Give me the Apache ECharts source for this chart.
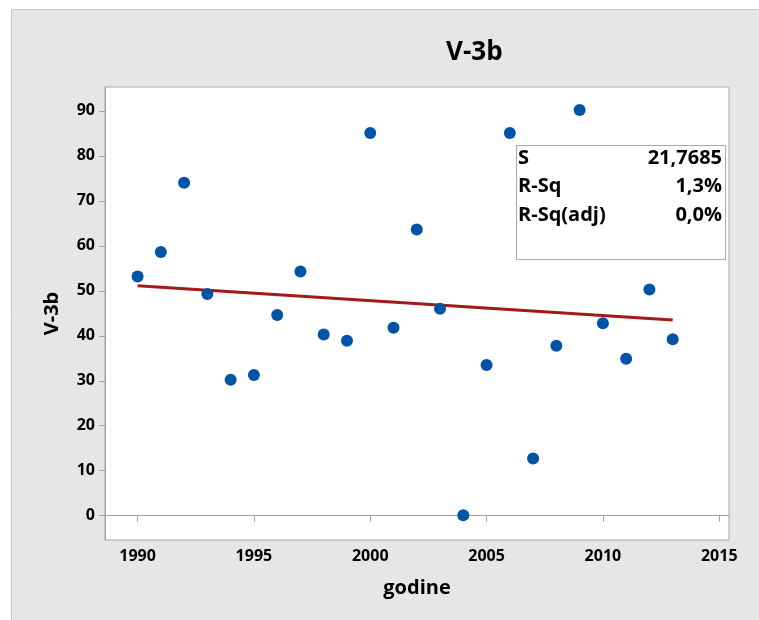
<!DOCTYPE html>
<html>
<head>
<meta charset="utf-8">
<script src="https://cdn.jsdelivr.net/npm/echarts@6/dist/echarts.min.js"></script>
<style>
  html, body { margin: 0; padding: 0; background: #fff; }
  #chart { width: 759px; height: 620px; }
</style>
</head>
<body>
<div id="chart"></div>
<script>
// data
var years = [1990, 1991, 1992, 1993, 1994, 1995, 1996, 1997, 1998, 1999, 2000, 2001,
  2002, 2003, 2004, 2005, 2006, 2007, 2008, 2009, 2010, 2011, 2012, 2013]
var values = [53.2, 58.6, 74.0, 49.3, 30.2, 31.3, 44.6, 54.3, 40.3, 38.9, 85.1, 41.8,
  63.6, 46.0, 0.1, 33.5, 85.1, 12.7, 37.8, 90.2, 42.8, 34.9, 50.3, 39.2]
// fitted line, end points
var fitYears = [1990, 2013]
var fitValues = [51.1, 43.5]
var xTicks = [1990, 1995, 2000, 2005, 2010, 2015]
var yTicks = [0, 10, 20, 30, 40, 50, 60, 70, 80, 90]
var statNames = ['S', 'R-Sq', 'R-Sq(adj)']
var statValues = ['21,7685', '1,3%', '0,0%']

var font = 'Open Sans'
var chart = echarts.init(document.getElementById('chart'))

var points = years.map(function (y, i) { return [y, values[i]] })
var fit = fitYears.map(function (y, i) { return [y, fitValues[i]] })

var statText = []
statNames.forEach(function (n, i) {
  statText.push({
    type: 'text', left: 518, top: 148 + i * 28.5, z: 101,
    style: { text: n, font: 'bold 20px "' + font + '"', fill: '#000' }
  })
  statText.push({
    type: 'text', right: 37, top: 148 + i * 28.5, z: 101,
    style: { text: statValues[i], font: 'bold 20px "' + font + '"', fill: '#000', textAlign: 'right' }
  })
})

chart.setOption({
  backgroundColor: '#fff',
  animation: false,
  title: {
    text: 'V-3b',
    left: 441,
    top: 35,
    textStyle: { fontFamily: font, fontSize: 26, fontWeight: 'bold', color: '#000' }
  },
  grid: {
    left: 105, right: 30, top: 87, bottom: 80,
    show: true, backgroundColor: '#fff', borderColor: '#a8a8a8', borderWidth: 1
  },
  xAxis: {
    type: 'value', min: 1988.6, max: 2015.42,
    name: 'godine', nameLocation: 'middle', nameGap: 38,
    nameTextStyle: { fontFamily: font, fontSize: 20, fontWeight: 'bold', color: '#000' },
    splitLine: { show: false },
    axisLine: { lineStyle: { color: '#a0a0a0', width: 1 } },
    axisTick: { customValues: xTicks, length: 6, lineStyle: { color: '#a0a0a0' } },
    axisLabel: {
      customValues: xTicks, margin: 8, fontFamily: font, fontSize: 16, fontWeight: 'bold', color: '#000',
      formatter: function (v) { return String(v) }
    }
  },
  yAxis: {
    type: 'value', min: -5.4, max: 95.3,
    name: 'V-3b', nameLocation: 'middle', nameGap: 43,
    nameTextStyle: { fontFamily: font, fontSize: 20, fontWeight: 'bold', color: '#000' },
    splitLine: { show: false },
    axisLine: { show: true, lineStyle: { color: '#a0a0a0', width: 1 } },
    axisTick: { show: true, customValues: yTicks, length: 6, lineStyle: { color: '#a0a0a0' } },
    axisLabel: { customValues: yTicks, margin: 10, fontFamily: font, fontSize: 16, fontWeight: 'bold', color: '#000' }
  },
  graphic: [
    {
      type: 'rect', left: 11, top: 9, z: -10, silent: true,
      shape: { width: 800, height: 700 },
      style: { fill: '#e6e6e6', stroke: '#c8c8c8', lineWidth: 1 }
    },
    {
      type: 'rect', left: 516, top: 145, z: 100,
      shape: { width: 209, height: 114 },
      style: { fill: '#fff', stroke: '#a8a8a8', lineWidth: 1 }
    }
  ].concat(statText),
  series: [
    {
      type: 'line', data: fit, symbol: 'none', z: 3,
      lineStyle: { color: '#a11a1a', width: 3 }
    },
    {
      type: 'scatter', data: points, symbolSize: 12, z: 4,
      itemStyle: { color: '#0054a6', opacity: 1 }
    }
  ]
})
</script>
</body>
</html>
